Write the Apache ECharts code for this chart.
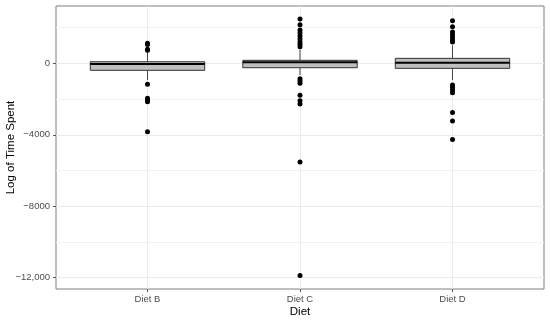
<!DOCTYPE html>
<html>
<head>
<meta charset="utf-8">
<script src="https://cdn.jsdelivr.net/npm/echarts@6/dist/echarts.min.js"></script>
<style>html,body{margin:0;padding:0;background:#fff;}#c{width:550px;height:321px;}</style>
</head>
<body>
<div id="c"></div>
<script>
// ---- data ----
const categories = ['Diet B', 'Diet C', 'Diet D'];
// [lower whisker, Q1, median, Q3, upper whisker]
const boxB = [-935, -390, -40, 90, 650];
const boxC = [-650, -245, 60, 170, 760];
const boxD = [-935, -280, 35, 280, 1000];
const outliersB = [1120, 1060, 790, 730, -1165, -1960, -2050, -2150, -3830];
const outliersC = [2480, 2165, 1866, 1716, 1548, 1380, 1212, 1066, 932, -860, -990, -1120, -1790, -2090, -2280, -5520, -11870];
const outliersD = [2387, 2050, 1754, 1603, 1455, 1306, 1194, -1213, -1344, -1493, -1643, -2745, -3230, -4256];
const yTicks = [-12000, -8000, -4000, 0];
const yTickLabels = ['\u221212,000', '\u22128000', '\u22124000', '0'];
const yMinorTicks = [-10000, -6000, -2000, 2000];

const boxes = [boxB, boxC, boxD];
const outliers = [outliersB, outliersC, outliersD];
const boxData = boxes.map((b, i) => [i].concat(b));
const pointData = [];
outliers.forEach((arr, i) => arr.forEach(v => pointData.push([i, v])));

const FONT = 'Liberation Sans, Arial, sans-serif';
const BOX_W = 0.75;

function renderBox(params, api) {
  const x = api.value(0);
  const lo = api.coord([x, api.value(1)]);
  const q1 = api.coord([x, api.value(2)]);
  const md = api.coord([x, api.value(3)]);
  const q3 = api.coord([x, api.value(4)]);
  const hi = api.coord([x, api.value(5)]);
  const hw = api.size([BOX_W, 0])[0] / 2;
  const lineStyle = { stroke: '#444', lineWidth: 1 };
  return {
    type: 'group',
    children: [
      { type: 'line', shape: { x1: lo[0], y1: lo[1], x2: q1[0], y2: q1[1] }, style: lineStyle },
      { type: 'line', shape: { x1: q3[0], y1: q3[1], x2: hi[0], y2: hi[1] }, style: lineStyle },
      { type: 'rect', shape: { x: q3[0] - hw, y: q3[1], width: 2 * hw, height: q1[1] - q3[1] },
        style: { fill: '#bfbfbf', stroke: '#333', lineWidth: 1 } },
      { type: 'line', shape: { x1: md[0] - hw, y1: md[1], x2: md[0] + hw, y2: md[1] },
        style: { stroke: '#000', lineWidth: 2 } }
    ]
  };
}

const chart = echarts.init(document.getElementById('c'), null, { renderer: 'canvas' });
chart.setOption({
  animation: false,
  backgroundColor: '#fff',
  grid: { left: 56, right: 6, top: 6, bottom: 32, containLabel: false, outerBoundsMode: 'none',
    show: true, borderColor: '#7f7f7f', borderWidth: 1, backgroundColor: 'transparent' },
  xAxis: {
    type: 'value', min: -0.6, max: 2.6,
    name: 'Diet', nameLocation: 'middle', nameGap: 17, nameMoveOverlap: false,
    nameTextStyle: { fontFamily: FONT, fontSize: 11.5, color: '#000' },
    axisLine: { show: false, onZero: false },
    axisTick: { show: true, length: 3, customValues: [0, 1, 2], lineStyle: { color: '#555' } },
    axisLabel: { customValues: [0, 1, 2], margin: 5, fontFamily: FONT, fontSize: 9.5, color: '#4d4d4d',
      formatter: v => categories[Math.round(v)] },
    splitLine: { show: true, lineStyle: { color: '#ebebeb', width: 1 } }
  },
  yAxis: [{
    type: 'value', min: -12630, max: 3210,
    name: 'Log of Time Spent', nameLocation: 'middle', nameGap: 39, nameMoveOverlap: false,
    nameTextStyle: { fontFamily: FONT, fontSize: 11.5, color: '#000' },
    axisLine: { show: false, onZero: false },
    axisTick: { show: true, length: 3, customValues: yTicks, lineStyle: { color: '#555' } },
    axisLabel: { customValues: yTicks, margin: 6, fontFamily: FONT, fontSize: 9.5, color: '#4d4d4d',
      formatter: v => yTickLabels[yTicks.indexOf(v)] },
    splitLine: { show: true, lineStyle: { color: '#ebebeb', width: 1 } }
  }, {
    type: 'value', min: -12630, max: 3210, position: 'left',
    axisLine: { show: false, onZero: false },
    axisTick: { show: false, customValues: yMinorTicks },
    axisLabel: { show: false, customValues: yMinorTicks },
    splitLine: { show: true, lineStyle: { color: '#f2f2f2', width: 1 } }
  }],
  series: [{
    type: 'custom',
    renderItem: renderBox,
    data: boxData,
    encode: { x: 0, y: [1, 2, 3, 4, 5] },
    z: 2
  }, {
    type: 'scatter',
    data: pointData,
    symbol: 'circle',
    symbolSize: 5,
    itemStyle: { color: '#000', opacity: 1 },
    z: 3
  }]
});
</script>
</body>
</html>
